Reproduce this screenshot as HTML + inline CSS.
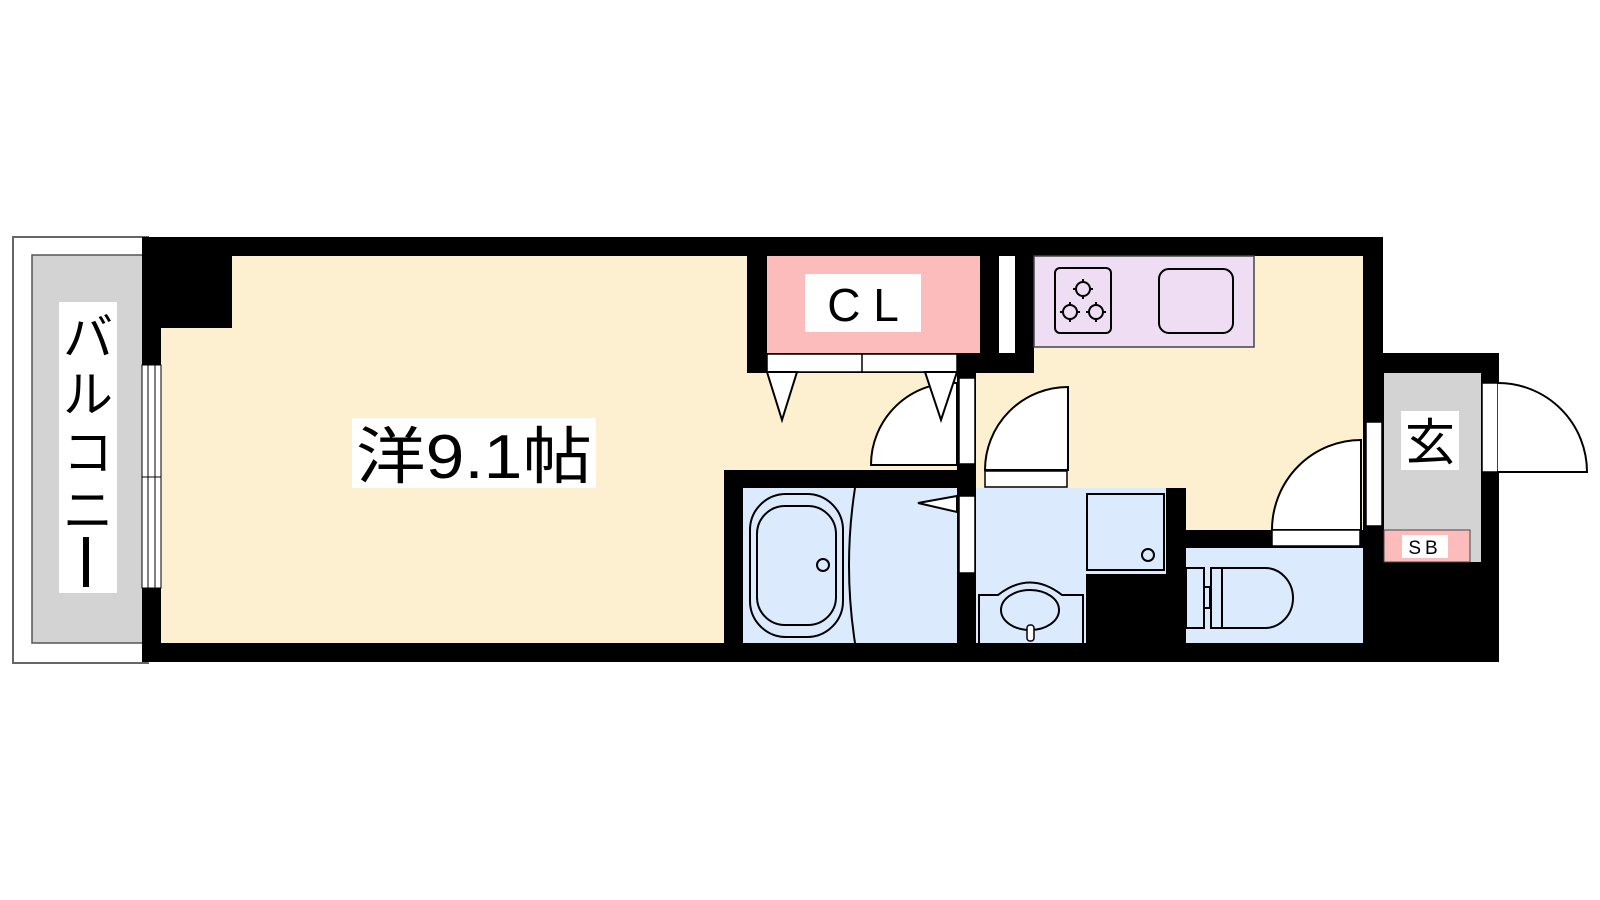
<!DOCTYPE html>
<html><head><meta charset="utf-8"><style>html,body{margin:0;padding:0;background:#fff}svg{display:block}</style></head>
<body>
<svg width="1600" height="900" viewBox="0 0 1600 900" xmlns="http://www.w3.org/2000/svg" font-family="'Liberation Sans','Noto Sans CJK JP',sans-serif">
<!-- balcony -->
<rect x="13" y="237" width="135" height="426" fill="#fff" stroke="#666" stroke-width="2"/>
<rect x="32" y="255" width="112" height="388" fill="#d3d3d3" stroke="#555" stroke-width="1.5"/>
<rect x="59" y="302" width="58" height="291" fill="#fff"/>
<text x="88" y="355" font-size="50" text-anchor="middle">バ</text>
<text x="88" y="412" font-size="50" text-anchor="middle">ル</text>
<text x="88" y="470" font-size="50" text-anchor="middle">コ</text>
<text x="88" y="528" font-size="50" text-anchor="middle">ニ</text>
<rect x="83" y="537" width="6" height="50" fill="#000"/>
<!-- black body -->
<rect x="142" y="237" width="1241" height="425" fill="#000"/>
<rect x="1383" y="353" width="116" height="309" fill="#000"/>
<!-- main room -->
<path d="M161 328 H232 V256 H747 V373 H957 V470 H724 V643 H161 Z" fill="#fdf0d0"/>
<rect x="142" y="365" width="19" height="223" fill="#fff" stroke="#000" stroke-width="1"/>
<line x1="148" y1="365" x2="148" y2="588" stroke="#000" stroke-width="1"/>
<line x1="155" y1="365" x2="155" y2="588" stroke="#000" stroke-width="1"/>
<line x1="142" y1="477" x2="161" y2="477" stroke="#000" stroke-width="1"/>
<rect x="352" y="418" width="244" height="70" fill="#fff"/>
<text x="356" y="478" font-size="62" textLength="236" lengthAdjust="spacingAndGlyphs">洋9.1帖</text>
<!-- closet -->
<rect x="767" y="256" width="213" height="97" fill="#fdbcbc"/>
<rect x="805" y="274" width="116" height="58" fill="#fff"/>
<text x="863" y="321" font-size="46" text-anchor="middle">C L</text>
<rect x="767" y="354" width="190" height="18" fill="#fff" stroke="#000" stroke-width="1.5"/>
<line x1="862" y1="354" x2="862" y2="372" stroke="#000" stroke-width="1.5"/>
<rect x="999" y="256" width="16" height="97" fill="#fff"/>
<!-- kitchen / corridor -->
<path d="M1034 256 H1363 V530 H1186 V488 H976 V373 H1034 Z" fill="#fdf0d0"/>
<rect x="1034" y="256" width="220" height="91" fill="#eeddf3" stroke="#444" stroke-width="1.5"/>
<rect x="1055" y="268" width="56" height="65" rx="5" fill="none" stroke="#000" stroke-width="2"/>
<g fill="none" stroke="#000" stroke-width="2"><circle cx="1083" cy="289" r="7"/><circle cx="1070" cy="312" r="7"/><circle cx="1096" cy="312" r="7"/>
<path d="M1083 279v4M1083 295v4M1073 289h4M1089 289h4M1070 302v4M1070 318v4M1060 312h4M1076 312h4M1096 302v4M1096 318v4M1086 312h4M1102 312h4"/></g>
<rect x="1159" y="269" width="74" height="64" rx="10" fill="none" stroke="#000" stroke-width="2"/>
<!-- doors near closet -->
<rect x="959" y="378" width="16" height="86" fill="#fff" stroke="#000" stroke-width="1.5"/>
<path d="M957 383 A82 82 0 0 0 871 465 H957 Z" fill="#fff" stroke="#000" stroke-width="2"/>
<polygon points="767,372 797,372 782,420" fill="#fff" stroke="#000" stroke-width="2"/>
<polygon points="925,372 957,372 941,420" fill="#fff" stroke="#000" stroke-width="2"/>
<path d="M1068 387 A83 83 0 0 0 985 470 H1068 Z" fill="#fff" stroke="#000" stroke-width="2"/>
<rect x="985" y="471" width="82" height="16" fill="#fff" stroke="#000" stroke-width="1.5"/>
<!-- bath -->
<rect x="743" y="488" width="214" height="155" fill="#dbeafd"/>
<rect x="750" y="494" width="93" height="143" rx="36" fill="none" stroke="#000" stroke-width="2"/>
<rect x="757" y="506" width="79" height="119" rx="28" fill="none" stroke="#000" stroke-width="2"/>
<circle cx="823" cy="565" r="6" fill="none" stroke="#000" stroke-width="2"/>
<path d="M855 488 Q843 565 855 643" fill="none" stroke="#000" stroke-width="2"/>
<rect x="959" y="496" width="16" height="77" fill="#fff" stroke="#000" stroke-width="1.5"/>
<polygon points="918,503 957,496 957,512" fill="#fff" stroke="#000" stroke-width="2"/>
<!-- washroom -->
<rect x="976" y="488" width="190" height="155" fill="#dbeafd"/>
<rect x="1087" y="494" width="77" height="76" fill="none" stroke="#000" stroke-width="2"/>
<circle cx="1148" cy="555" r="6" fill="none" stroke="#000" stroke-width="2"/>
<rect x="1086" y="574" width="80" height="69" fill="#000"/>
<path d="M979 643 V595 H998 Q1030 570 1062 595 H1083 V643" fill="none" stroke="#000" stroke-width="2"/>
<ellipse cx="1030" cy="610" rx="29" ry="20" fill="none" stroke="#000" stroke-width="2"/>
<rect x="1027" y="625" width="7" height="16" rx="3" fill="#fff" stroke="#000" stroke-width="1.5"/>
<!-- toilet -->
<rect x="1186" y="548" width="177" height="95" fill="#dbeafd"/>
<rect x="1186" y="568" width="18" height="60" fill="none" stroke="#000" stroke-width="2"/>
<path d="M1211 568 H1265 A28 30 0 0 1 1265 628 H1211 Z" fill="none" stroke="#000" stroke-width="2"/>
<line x1="1222" y1="568" x2="1222" y2="628" stroke="#000" stroke-width="2"/>
<path d="M1204 587 H1210 V608 H1204" fill="none" stroke="#000" stroke-width="2"/>
<path d="M1361 440 A89 90 0 0 0 1272 530 H1361 Z" fill="#fff" stroke="#000" stroke-width="2"/>
<rect x="1272" y="530" width="88" height="16" fill="#fff" stroke="#000" stroke-width="1.5"/>
<rect x="1366" y="422" width="16" height="104" fill="#fff" stroke="#000" stroke-width="1.5"/>
<!-- entry -->
<rect x="1384" y="373" width="97" height="189" fill="#d3d3d3"/>
<rect x="1401" y="411" width="58" height="59" fill="#fff"/>
<text x="1430" y="460" font-size="50" text-anchor="middle">玄</text>
<rect x="1384" y="530" width="86" height="32" fill="#fdbcbc" stroke="#444" stroke-width="1"/>
<rect x="1402" y="535" width="46" height="23" fill="#fff"/>
<text x="1425" y="554" font-size="19" text-anchor="middle" letter-spacing="4">SB</text>
<rect x="1482" y="383" width="16" height="89" fill="#fff" stroke="#000" stroke-width="1.5"/>
<path d="M1498 383 A89 89 0 0 1 1587 472 H1498" fill="#fff" stroke="#000" stroke-width="2"/>
</svg>
</body></html>
